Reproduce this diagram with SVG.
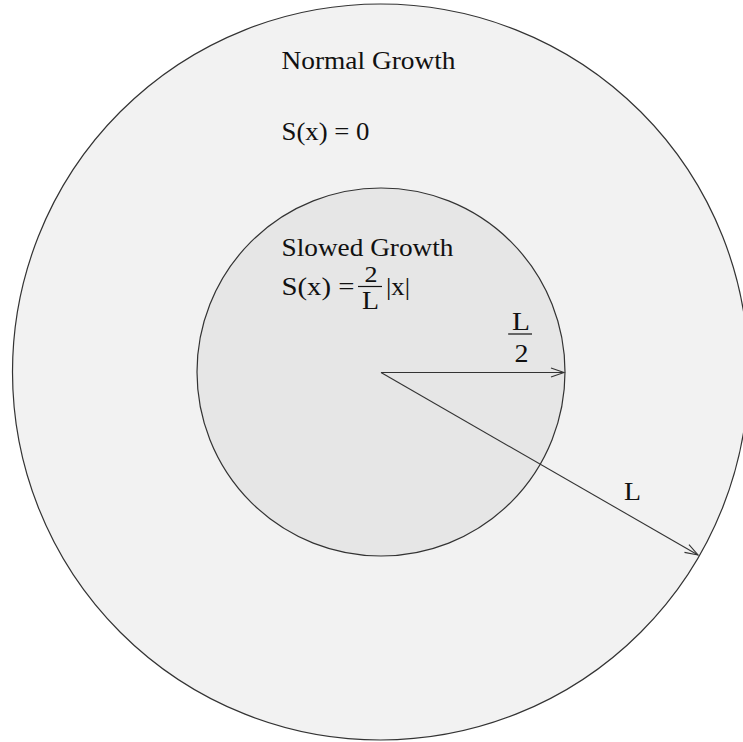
<svg xmlns="http://www.w3.org/2000/svg" width="743" height="742" viewBox="0 0 743 742">
<style>
.t{font-family:"Liberation Serif","Times New Roman",serif;font-size:25px;fill:#111}
.s{font-size:23px}
.c{stroke:#333;stroke-width:1.2}
.a{stroke:#333;stroke-width:1.1;fill:none}
</style>
<defs>
<marker id="ah" markerWidth="16" markerHeight="12" refX="14" refY="6" orient="auto" markerUnits="userSpaceOnUse">
<path d="M1,1.5 L14,6 L1,10.5" fill="none" stroke="#333" stroke-width="1.1"/>
</marker>
</defs>
<rect width="743" height="742" fill="#fff"/>
<g id="outer">
<circle class="c" cx="380.5" cy="372" r="368" fill="#f2f2f2"/>
<text class="t" x="281.5" y="69" textLength="174" lengthAdjust="spacingAndGlyphs">Normal Growth</text>
<text class="t" x="281.5" y="140" textLength="88" lengthAdjust="spacingAndGlyphs">S(x) = 0</text>
</g>
<g id="inner">
<circle class="c" cx="381" cy="372" r="184" fill="#e6e6e6"/>
<text class="t" x="281.5" y="256" textLength="172" lengthAdjust="spacingAndGlyphs">Slowed Growth</text>
<text class="t" x="281.5" y="295" textLength="73" lengthAdjust="spacingAndGlyphs">S(x) =</text>
<text class="t s" x="364.5" y="282" textLength="13" lengthAdjust="spacingAndGlyphs">2</text>
<line x1="358" y1="286.5" x2="382" y2="286.5" stroke="#111" stroke-width="1.2"/>
<text class="t" x="362" y="309" textLength="17" lengthAdjust="spacingAndGlyphs">L</text>
<text class="t" x="386" y="295" textLength="24" lengthAdjust="spacingAndGlyphs">|x|</text>
</g>
<g id="connectors">
<line class="a" x1="381" y1="372.5" x2="564" y2="372.5" marker-end="url(#ah)"/>
<line class="a" x1="381" y1="372.5" x2="698" y2="555" marker-end="url(#ah)"/>
</g>
<g id="labels">
<text class="t" x="512" y="330" textLength="18" lengthAdjust="spacingAndGlyphs">L</text>
<line x1="508" y1="334" x2="532" y2="334" stroke="#111" stroke-width="1.2"/>
<text class="t" x="514.5" y="362" textLength="14" lengthAdjust="spacingAndGlyphs">2</text>
<text class="t" x="624" y="500" textLength="17" lengthAdjust="spacingAndGlyphs">L</text>
</g>
</svg>
